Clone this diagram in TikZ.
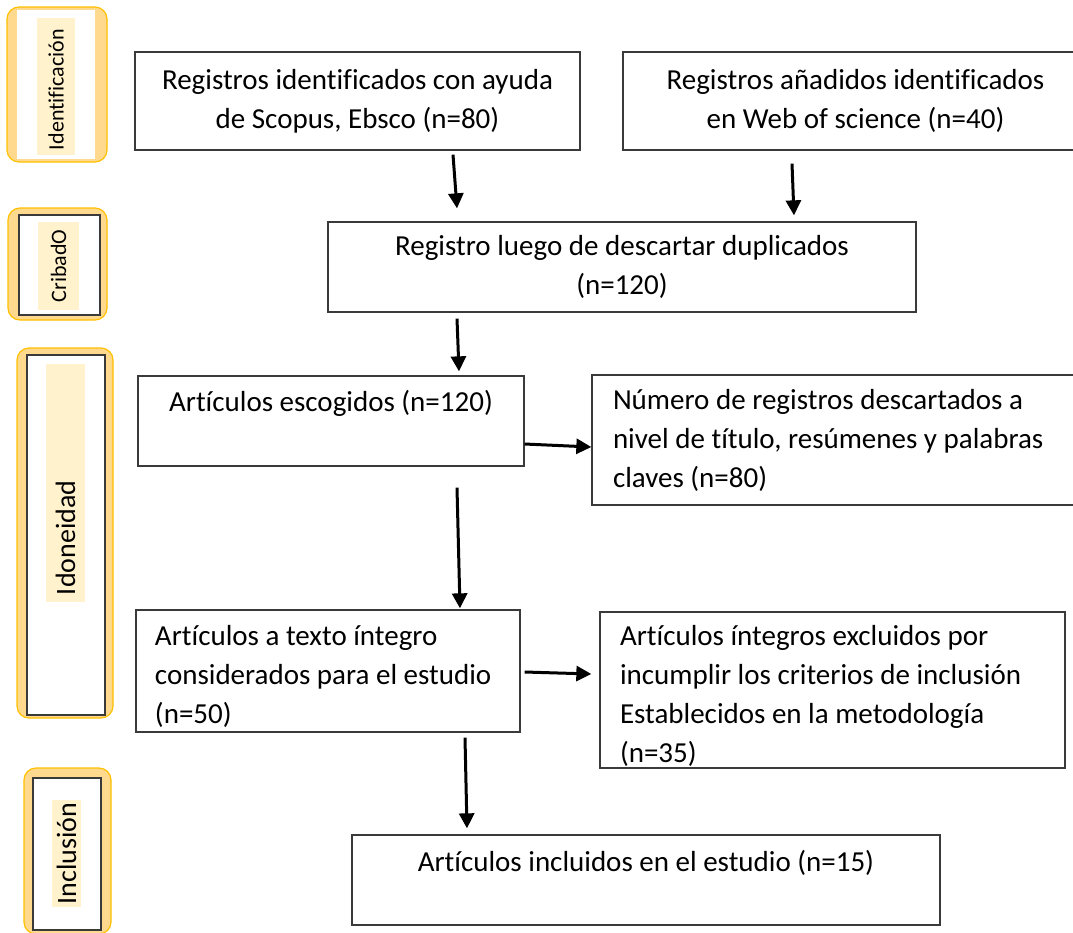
\documentclass[tikz,border=0pt]{standalone}
\usepackage{fontspec}
\setmainfont{Carlito}[Ligatures=NoCommon]
\usetikzlibrary{arrows.meta,calc}
\definecolor{bandfill}{HTML}{FFD98E}
\definecolor{bandline}{HTML}{FFC000}
\definecolor{tagfill}{HTML}{FFF2CC}
\definecolor{boxline}{HTML}{3A3A3A}
\begin{document}
\begin{tikzpicture}[x=0.5pt,y=-0.5pt,
    box/.style={draw=boxline,line width=0.65pt,rectangle,inner sep=0pt,
      font=\fontsize{14.5}{19.5}\selectfont},
    arr/.style={line width=1.5pt,-{Triangle[length=7.5pt,width=7.5pt]}},
    band/.style={fill=bandfill,draw=bandline,line width=0.6pt,rounded corners=6pt},
    tag/.style={fill=tagfill,rotate=90,inner sep=0pt}]
  \useasboundingbox (0,0) rectangle (1073,933);
  % phase labels on the left
  \filldraw[band] (7,7) rectangle (107,162);
  \fill[white] (17,10) rectangle (95,159);
  \node[tag,minimum width=68.5pt,minimum height=19pt,text width=63.5pt,align=flush left,
    font=\fontsize{11}{13}\selectfont] (id) at (56,86.5) {Identificación};
  \filldraw[band] (8,208) rectangle (107,320);
  \filldraw[fill=white,draw=boxline,line width=0.65pt] (19,215) rectangle (100,315);
  \node[tag,minimum width=44pt,minimum height=20.5pt,
    font=\fontsize{11}{13}\selectfont] (cr) at (58.5,266) {CribadO};
  \filldraw[band] (17,348) rectangle (113,718);
  \filldraw[fill=white,draw=boxline,line width=0.65pt] (27,355) rectangle (105,715);
  \node[tag,minimum width=119pt,minimum height=19.5pt,text width=112pt,align=flush left,
    font=\fontsize{14}{16}\selectfont] (ido) at (65.5,483) {Idoneidad};
  \filldraw[band] (24,768) rectangle (111,934);
  \filldraw[fill=white,draw=boxline,line width=0.65pt] (33,778) rectangle (101,930);
  \node[tag,minimum width=53.5pt,minimum height=14.5pt,
    font=\fontsize{14}{16}\selectfont] (inc) at (66.5,853.5) {Inclusión};
  % boxes of the flow
  \node[box,minimum width=222.5pt,minimum height=49pt,align=center] (A) at (357.5,101)
    {Registros identificados con ayuda\\de Scopus, Ebsco (n=80)};
  \node[box,minimum width=232.5pt,minimum height=49pt,align=center] (B) at (855.5,101)
    {Registros añadidos identificados\\en Web of science (n=40)};
  \node[box,minimum width=294pt,minimum height=45pt,align=center] (C) at (622,267)
    {Registro luego de descartar duplicados\\(n=120)};
  \node[box,minimum width=193pt,minimum height=45pt,text depth=20pt] (D) at (331,421)
    {Artículos escogidos (n=120)};
  \node[box,minimum width=249pt,minimum height=65pt,inner xsep=10.5pt,text width=228pt,
    align=flush left] (E) at (841,440)
    {Número de registros descartados a\\nivel de título, resúmenes y palabras\\claves (n=80)};
  \node[box,minimum width=192pt,minimum height=61pt,inner xsep=9.5pt,text width=173pt,
    align=flush left] (F) at (328,671)
    {\rule{0pt}{16pt}Artículos a texto íntegro\\considerados para el estudio\\(n=50)};
  \node[box,minimum width=232.5pt,minimum height=78pt,inner xsep=10pt,text width=212.5pt,
    align=flush left] (G) at (832.5,690)
    {\rule{0pt}{16pt}Artículos íntegros excluidos por\\incumplir los criterios de inclusión\\Establecidos en la metodología\\(n=35)};
  \node[box,minimum width=294pt,minimum height=45pt,text depth=19pt] (H) at (646,880)
    {Artículos incluidos en el estudio (n=15)};
  % arrows
  \draw[arr] ($(A.south)+(95.5,4)$) -- ($(C.north)+(-165,-13)$);
  \draw[arr] ($(B.south)+(-63.5,13)$) -- ($(C.north)+(172,-6)$);
  \draw[arr] ($(C.south)+(-165,6)$) -- ($(D.north)+(128,-4)$);
  \draw[arr] ($(D.east)+(0,23)$) -- ($(E.west)+(0,7)$);
  \draw[arr] ($(D.south)+(126,21)$) -- ($(F.north)+(132,-1)$);
  \draw[arr] ($(F.east)+(4,1)$) -- ($(G.west)+(-8,-16)$);
  \draw[arr] ($(F.south)+(137,5)$) -- ($(H.north)+(-179,-6)$);
\end{tikzpicture}
\end{document}
